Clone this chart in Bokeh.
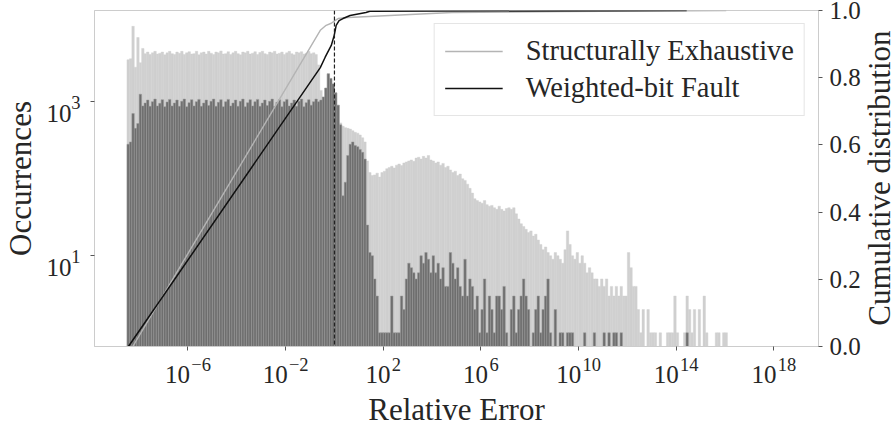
import math
import numpy as np
from bokeh.plotting import figure
from bokeh.layouts import row
from bokeh.models import (Range1d, LinearAxis, LogAxis, LinearScale, FixedTicker,
                          CustomJSTickFormatter, PrintfTickFormatter, Span, Legend,
                          LegendItem, Label, ColumnDataSource)
from bokeh.embed import file_html
from bokeh.resources import INLINE

# ---------------- data ----------------
# histogram bins: equal width in log10(relative error)
BIN_START_LOG10 = -8.5
BIN_WIDTH_LOG10 = 0.1

structurally_exhaustive_counts = [
    3500, 3600, 9500, 2800, 6800, 3200, 4900, 4200, 4400, 4100,
    4300, 4500, 4150, 4250, 4400, 4050, 4300, 4500, 4200, 4100,
    4400, 4250, 4500, 4100, 4300, 4450, 4150, 4200, 4500, 4050,
    4300, 4400, 4150, 4500, 4250, 4100, 4400, 4300, 4550, 4150,
    4200, 4450, 4100, 4300, 4500, 4200, 4050, 4400, 4300, 4500,
    4150, 4250, 4450, 4100, 4350, 4500, 4200, 4100, 4400, 4300,
    4500, 4150, 4250, 4400, 4100, 4300, 4500, 4200, 4050, 4400,
    4300, 4450, 4150, 4250, 4500, 4200, 4300, 4100, 3000, 1400,
    1150, 1500, 2300, 2000, 1700, 1300, 900, 530, 480, 460,
    450, 440, 420, 400, 390, 370, 340, 300, 170, 120,
    110, 112, 118, 105, 120, 125, 135, 140, 145, 138,
    150, 155, 148, 160, 165, 170, 175, 168, 185, 190,
    180, 195, 185, 200, 175, 170, 160, 165, 150, 158,
    140, 145, 130, 120, 125, 110, 115, 100, 95, 85,
    75, 65, 55, 52, 50, 48, 52, 46, 44, 45,
    42, 40, 44, 40, 38, 41, 42, 40, 42, 35,
    30, 26, 24, 22, 20, 21, 18, 19, 16, 14,
    12, 13, 11, 10, 9, 11, 10, 9, 8, 12,
    21, 14, 10, 9, 11, 8, 10, 8, 6, 7,
    6, 5, 5, 4, 5, 4, 5, 3, 4, 3,
    4, 3, 4, 3, 3, 11, 7, 4, 4, 2,
    1, 2, 0, 2, 1, 1, 1, 0, 1, 0,
    0, 1, 1, 1, 3, 1, 0, 0, 1, 3,
    2, 1, 2, 0, 2, 0, 3, 1, 0, 0,
    0, 1, 1, 0, 1, 1,
]

weighted_bit_fault_counts = [
    280, 300, 700, 450, 520, 1250, 880, 960, 1050, 870,
    1000, 1080, 880, 950, 1060, 860, 990, 1070, 880, 960,
    1050, 870, 1010, 1080, 860, 970, 1060, 880, 1000, 1070,
    870, 960, 1050, 890, 1010, 1080, 870, 980, 1060, 860,
    1000, 1070, 880, 960, 1050, 870, 1010, 1080, 860, 970,
    1060, 880, 1000, 1070, 870, 960, 1050, 890, 1010, 1080,
    870, 980, 1060, 860, 1000, 1070, 880, 960, 1050, 870,
    1010, 1080, 860, 970, 1060, 900, 1000, 1080, 1000, 1050,
    1150, 1500, 2300, 2000, 1700, 1300, 900, 500, 60, 90,
    200, 280, 300, 270, 260, 240, 220, 180, 25, 11,
    10, 5, 3, 1, 1, 1, 1, 1, 3, 1,
    1, 1, 3, 2, 5, 8, 7, 6, 5, 6,
    10, 8, 11, 9, 6, 10, 6, 8, 5, 7,
    4, 4, 11, 8, 5, 7, 4, 3, 9, 3,
    5, 4, 2, 3, 1, 2, 5, 1, 3, 2,
    1, 3, 3, 2, 4, 1, 0, 2, 3, 1,
    2, 3, 5, 3, 2, 0, 1, 2, 3, 1,
    2, 3, 5, 1, 0, 2, 0, 1, 1, 0,
    1, 1, 1, 0, 0, 0, 0, 1, 0, 0,
    0, 1, 0, 0, 0, 1, 0, 1, 0, 1,
    1, 0, 1, 0, 0, 0, 0, 0, 0, 0,
    0, 0, 0, 0, 0, 0, 0, 0, 0, 0,
    0, 0, 0, 0, 0, 0, 0, 0, 0, 1,
]

# cumulative distributions (log10 of relative error, cumulative fraction)
se_cdf_log10_x = [-8.26, -0.58, -0.34, -0.13, 0.02, 0.15, 0.56, 4.82, 9.28, 16.05]
se_cdf = [0.0, 0.941, 0.956, 0.962, 0.970, 0.976, 0.979, 0.994, 0.997, 1.0]
wb_cdf_log10_x = [-8.44, -0.58, -0.38, -0.13, -0.01, 0.07, 0.19, 0.35, 0.64, 1.29, 1.45, 14.43]
wb_cdf = [0.0, 0.830, 0.861, 0.896, 0.926, 0.956, 0.970, 0.976, 0.985, 0.994, 0.998, 1.0]

x_tick_exponents = [-6, -2, 2, 6, 10, 14, 18]
y_tick_exponents = [1, 3]
cdf_ticks = [0.0, 0.2, 0.4, 0.6, 0.8, 1.0]
threshold_value = 1.0

series_names = ["Structurally Exhaustive", "Weighted-bit Fault"]
x_title = "Relative Error"
y_title = "Occurrences"
y2_title = "Cumulative distribution"

# ---------------- styling ----------------
FONT = "Liberation Serif"
TEXT_COLOR = "#262626"
LIGHT_BAR = "#d0d0d0"
DARK_BAR = "#6e6e6e"
DARK_EDGE = "#9a9a9a"
SPINE = "#cccccc"
BASE_PX = 25.0
EXP_PX = 18.5
PX_PER_DECADE_X = 24.65
PX_PER_DECADE_Y = 77.5
SIDE_W = 30           # width of the strip holding the right-hand title
MAIN_W = 893 - SIDE_W


def hist_source(counts):
    c = np.asarray(counts, dtype=float)
    idx = np.arange(len(c))
    left = 10.0 ** (BIN_START_LOG10 + idx * BIN_WIDTH_LOG10)
    right = 10.0 ** (BIN_START_LOG10 + (idx + 1) * BIN_WIDTH_LOG10)
    keep = c > 0
    return ColumnDataSource(dict(left=left[keep], right=right[keep],
                                 top=c[keep], bottom=np.full(keep.sum(), 0.1)))


def exp_width(e):
    return sum(0.564 * EXP_PX if ch == "-" else 0.5 * EXP_PX for ch in str(e))


p = figure(width=MAIN_W, height=429,
           x_axis_type="log", y_axis_type="log",
           x_range=Range1d(10 ** -9.83, 10 ** 19.83),
           y_range=Range1d(10 ** -0.178, 10 ** 4.183),
           output_backend="svg", toolbar_location=None,
           min_border_left=89, min_border_right=MAIN_W - 820,
           min_border_top=10, min_border_bottom=81)
p.grid.visible = False
p.outline_line_color = SPINE
p.background_fill_color = "white"
p.border_fill_color = "white"

p.extra_y_ranges = {"cdf": Range1d(0, 1)}
p.extra_y_scales = {"cdf": LinearScale()}

# bars
p.quad(left="left", right="right", top="top", bottom="bottom",
       source=hist_source(structurally_exhaustive_counts),
       fill_color=LIGHT_BAR, line_color=LIGHT_BAR, line_width=0.4)
p.quad(left="left", right="right", top="top", bottom="bottom",
       source=hist_source(weighted_bit_fault_counts),
       fill_color=DARK_BAR, line_color=DARK_EDGE, line_width=0.5)

# cumulative lines
se_line = p.line(x=[10.0 ** v for v in se_cdf_log10_x], y=se_cdf,
                 y_range_name="cdf", line_color="#b4b4b4", line_width=1.4)
wb_line = p.line(x=[10.0 ** v for v in wb_cdf_log10_x], y=wb_cdf,
                 y_range_name="cdf", line_color="#111111", line_width=1.5)

p.add_layout(Span(location=threshold_value, dimension="height",
                  line_color="#222222", line_dash="4 2", line_width=1.2))

blank = CustomJSTickFormatter(code='return ""')
base_fmt = CustomJSTickFormatter(code='return "10"')


def exp_fmt(shift):
    return CustomJSTickFormatter(args=dict(shift=shift), code="""
const e = Math.round(Math.log10(tick) - shift);
return String(e).replace("-", "\u2212");
""")


def hide_marks(ax):
    ax.axis_line_color = None
    ax.major_tick_line_color = None
    ax.minor_tick_line_color = None
    ax.major_tick_out = 0
    ax.major_tick_in = 0


def style_text(ax, size):
    ax.major_label_text_font = FONT
    ax.major_label_text_font_size = size
    ax.major_label_text_color = TEXT_COLOR
    ax.axis_label_text_font = FONT
    ax.axis_label_text_font_size = "31px"
    ax.axis_label_text_font_style = "normal"
    ax.axis_label_text_color = TEXT_COLOR


# ---- x axis: tick marks + "10" + raised exponent ----
x0 = p.xaxis[0]
x0.ticker = FixedTicker(ticks=[10.0 ** e for e in x_tick_exponents])
x0.formatter = blank
style_text(x0, "1px")
x0.major_label_standoff = 0

x_base_shift = [(-(BASE_PX + 1.5 + exp_width(e)) / 2.0 + BASE_PX / 2.0) / PX_PER_DECADE_X
                for e in x_tick_exponents]
x_exp_shift = (BASE_PX + 1.5) / 2.0 / PX_PER_DECADE_X
x1 = LogAxis(ticker=FixedTicker(ticks=[10.0 ** (e + s) for e, s in zip(x_tick_exponents, x_base_shift)]),
             formatter=base_fmt)
x2 = LogAxis(ticker=FixedTicker(ticks=[10.0 ** (e + x_exp_shift) for e in x_tick_exponents]),
             formatter=exp_fmt(x_exp_shift), axis_label=x_title)
p.add_layout(x1, "below")
p.add_layout(x2, "below")
for ax, size in ((x1, f"{BASE_PX}px"), (x2, f"{EXP_PX}px")):
    hide_marks(ax)
    style_text(ax, size)
x1.major_label_standoff = 15
x2.major_label_standoff = -28
x2.axis_label_standoff = 18

# ---- left axis ----
y0 = p.yaxis[0]
y0.ticker = FixedTicker(ticks=[10.0 ** e for e in y_tick_exponents])
y0.formatter = blank
style_text(y0, "1px")
y0.major_label_standoff = 0

y_base_shift = -12.0 / PX_PER_DECADE_Y
y_exp_shift = -1.0 / PX_PER_DECADE_Y
y1 = LogAxis(ticker=FixedTicker(ticks=[10.0 ** (e + y_base_shift) for e in y_tick_exponents]),
             formatter=base_fmt)
y2 = LogAxis(ticker=FixedTicker(ticks=[10.0 ** (e + y_exp_shift) for e in y_tick_exponents]),
             formatter=exp_fmt(y_exp_shift), axis_label=y_title)
p.add_layout(y1, "left")
p.add_layout(y2, "left")
for ax, size in ((y1, f"{BASE_PX}px"), (y2, f"{EXP_PX}px")):
    hide_marks(ax)
    style_text(ax, size)
y1.major_label_standoff = 19
y2.major_label_standoff = -37
y2.axis_label_standoff = 30

# ---- right axis (cumulative distribution) ----
ra = LinearAxis(y_range_name="cdf", ticker=FixedTicker(ticks=cdf_ticks),
                formatter=PrintfTickFormatter(format="%.1f"))
p.add_layout(ra, "right")
style_text(ra, f"{BASE_PX}px")
ra.major_label_standoff = 7

for ax in (x0, y0, ra):
    ax.axis_line_color = SPINE
    ax.major_tick_line_color = "#555555"
    ax.major_tick_out = 4
    ax.major_tick_in = 0
    ax.minor_tick_line_color = None

legend = Legend(items=[LegendItem(label=series_names[0], renderers=[se_line]),
                       LegendItem(label=series_names[1], renderers=[wb_line])],
                location="top_right")
legend.label_text_font = FONT
legend.label_text_font_size = "28.5px"
legend.label_text_color = TEXT_COLOR
legend.glyph_width = 58
legend.glyph_height = 34
legend.label_height = 34
legend.label_standoff = 23
legend.padding = 10
legend.spacing = 3
legend.margin = 13
legend.border_line_color = SPINE
legend.background_fill_alpha = 0.85
p.add_layout(legend)

# ---- strip on the right holding the secondary-axis title (reads bottom-to-top) ----
side = figure(width=SIDE_W, height=429, x_range=Range1d(0, SIDE_W), y_range=Range1d(0, 429),
              output_backend="svg", toolbar_location=None,
              x_axis_location=None, y_axis_location=None, min_border=0)
side.grid.visible = False
side.outline_line_color = None
side.background_fill_color = "white"
side.border_fill_color = "white"
side.add_layout(Label(x=16, y=215, x_units="data", y_units="data",
                      text=y2_title, angle=math.pi / 2,
                      text_align="center", text_baseline="middle",
                      text_font=FONT, text_font_size="31px", text_color=TEXT_COLOR))

layout = row(p, side)
open("out.html", "w", encoding="utf-8").write(file_html(layout, INLINE))
